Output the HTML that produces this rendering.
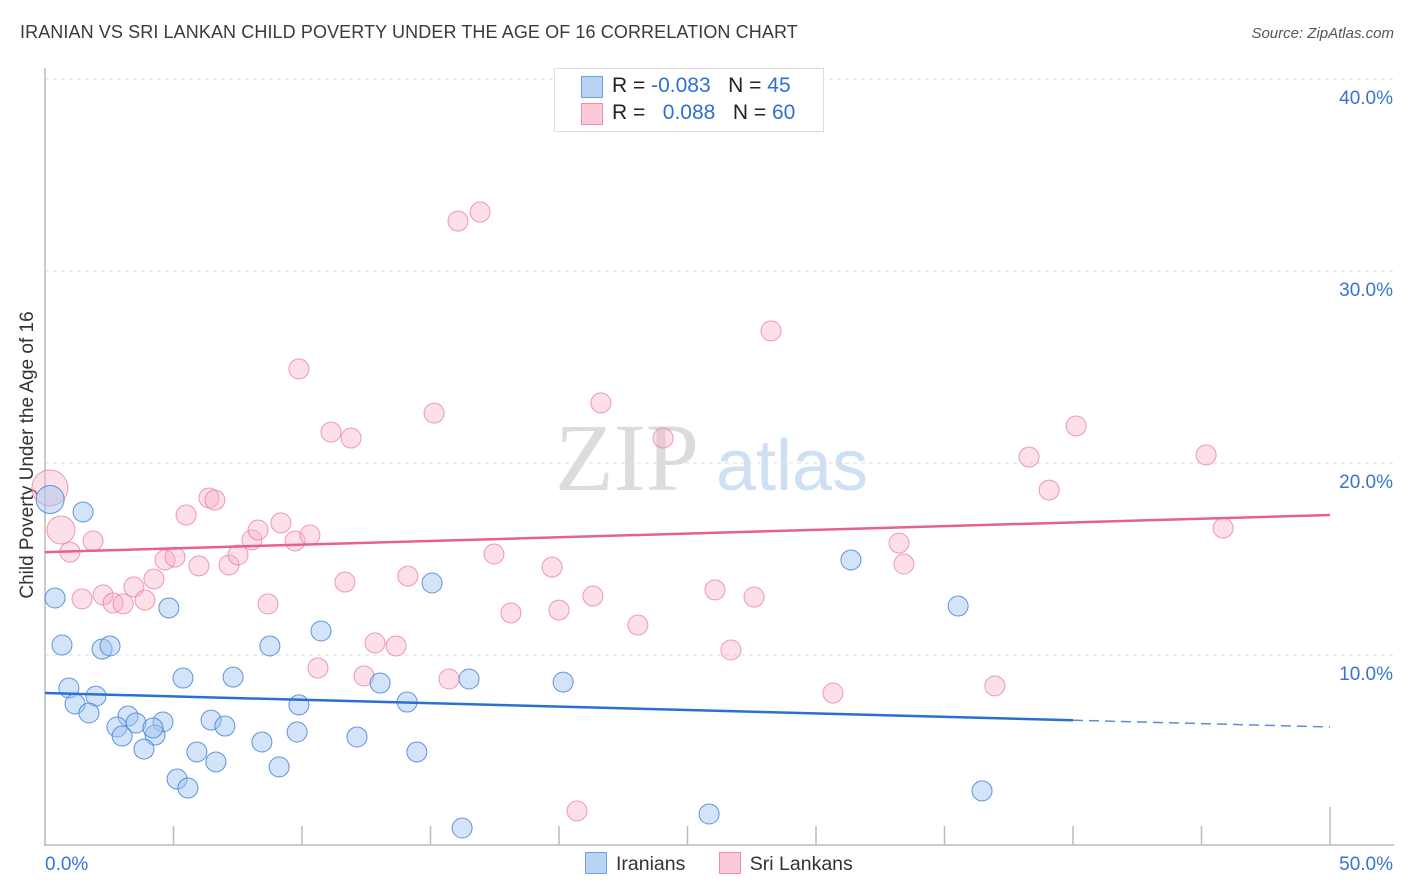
<!DOCTYPE html>
<html><head><meta charset="utf-8"><style>
body{margin:0;background:#fff;font-family:"Liberation Sans",sans-serif;}
#wrap{position:relative;width:1406px;height:892px;overflow:hidden;}
.t{position:absolute;white-space:nowrap;}
</style></head><body>
<div id="wrap">
<div class="t" style="left:20px;top:22px;font-size:18px;color:#3a3a3a;letter-spacing:0.1px;">IRANIAN VS SRI LANKAN CHILD POVERTY UNDER THE AGE OF 16 CORRELATION CHART</div>
<div class="t" style="right:12px;top:25px;font-size:15px;color:#555;font-style:italic;">Source: ZipAtlas.com</div>
<div class="t" style="left:28px;top:455px;font-size:19px;color:#333;transform:translate(-50%,-50%) rotate(-90deg);">Child Poverty Under the Age of 16</div>
<svg id="chart" width="1406" height="892" style="position:absolute;left:0;top:0"></svg>
<div class="t" style="left:554px;top:68px;width:268px;height:62px;border:1px solid #ddd;background:#fff;font-size:21px;color:#222;">
 <div style="position:absolute;left:26px;top:7px;width:20px;height:20px;background:#b9d3f5;border:1px solid #6fa0e0;"></div>
 <div style="position:absolute;left:57px;top:5px;">R = <span style="color:#2f6fd4">-0.083</span>&nbsp;&nbsp;&nbsp;N = <span style="color:#2f6fd4">45</span></div>
 <div style="position:absolute;left:26px;top:34px;width:20px;height:20px;background:#fbc9d8;border:1px solid #ea90ad;"></div>
 <div style="position:absolute;left:57px;top:32px;">R = &nbsp;&nbsp;<span style="color:#2f6fd4">0.088</span>&nbsp;&nbsp;&nbsp;N = <span style="color:#2f6fd4">60</span></div>
</div>
<div class="t" style="left:585px;top:852px;font-size:19.5px;color:#333;">
 <span style="display:inline-block;width:20px;height:20px;background:#b9d3f5;border:1px solid #6fa0e0;vertical-align:-4px;margin-right:9px;"></span>Iranians
 <span style="display:inline-block;width:20px;height:20px;background:#fbc9d8;border:1px solid #ea90ad;vertical-align:-4px;margin:0 9px 0 28px;"></span>Sri Lankans
</div>
</div>
<script>
const blueX=[0.2,1.48,0.39,0.66,2.22,2.53,0.93,1.98,1.17,1.71,3.23,2.80,3.54,3.00,4.59,4.28,4.20,3.85,4.82,5.37,5.14,5.56,5.91,6.46,6.65,7.00,7.32,8.44,8.75,9.11,9.88,9.81,10.74,12.14,13.04,14.09,14.47,15.06,16.23,16.50,20.16,25.84,31.36,35.53,36.46];
const blueY=[18.1,17.45,12.97,10.52,10.31,10.47,8.28,7.86,7.45,6.98,6.82,6.25,6.46,5.78,6.51,5.83,6.20,5.10,12.45,8.80,3.54,3.07,4.95,6.61,4.43,6.30,8.85,5.47,10.47,4.17,7.40,5.99,11.25,5.73,8.54,7.55,4.95,13.75,0.99,8.75,8.59,1.72,14.95,12.55,2.92];
const blueR=[14];
const pinkX=[0.19,0.62,0.97,1.87,1.44,2.26,2.65,3.04,3.46,3.89,4.24,4.67,5.06,5.49,5.99,6.38,6.61,7.16,7.51,8.05,8.29,8.68,9.18,9.73,10.31,9.88,10.62,11.13,11.67,11.91,12.41,12.84,13.66,14.12,15.14,15.72,16.07,16.93,17.47,18.13,19.73,20.00,20.70,21.32,21.63,23.07,24.05,26.07,26.69,27.59,28.25,30.66,33.23,33.42,36.96,38.29,39.07,40.12,45.18,45.84];
const pinkY=[18.70,16.51,15.36,15.94,12.92,13.13,12.71,12.66,13.54,12.86,13.96,14.95,15.10,17.29,14.64,18.18,18.07,14.69,15.21,15.99,16.51,12.66,16.88,15.94,16.25,24.90,9.32,21.61,13.80,21.30,8.91,10.63,10.47,14.11,22.60,8.75,32.60,33.07,15.26,12.19,14.58,12.34,1.88,13.07,23.13,11.56,21.30,13.39,10.26,13.02,26.88,8.02,15.83,14.74,8.39,20.31,18.59,21.93,20.42,16.61];
const pinkR=[18,14];
const blueTrend=[8.02,6.25];
const pinkTrend=[15.36,17.29];
const yTicks=[10,20,30,40];
const yTickLabels=["10.0%","20.0%","30.0%","40.0%"];
const xTicks=[5,10,15,20,25,30,35,40,45,50];

const sx=v=>45+v*25.7, sy=v=>847-v*19.2;
const svg=document.getElementById('chart');
const NS='http://www.w3.org/2000/svg';
function mk(tag,attrs,parent){const e=document.createElementNS(NS,tag);for(const k in attrs)e.setAttribute(k,attrs[k]);(parent||svg).appendChild(e);return e;}

let wm=mk('text',{x:555,y:490,'font-size':96,'font-family':'Liberation Serif,serif',fill:'#dcdcdc'});wm.textContent='ZIP';


let wm2=mk('text',{x:716,y:490,'font-size':72,'font-family':'Liberation Sans,sans-serif',fill:'#cfe0f4'});wm2.textContent='atlas';



yTicks.forEach((v,i)=>{
 const g=mk('line',{x1:45,x2:1395,y1:sy(v),y2:sy(v),stroke:'#dcdcdc','stroke-dasharray':'4 4'});
 
 
 const t=mk('text',{x:1393,y:sy(v)+25,'text-anchor':'end','font-size':19,fill:'#3a73d0','font-family':'Liberation Sans,sans-serif'});
 t.textContent=yTickLabels[i];
 
 
});
const ax=mk('line',{x1:45,x2:45,y1:68,y2:846,stroke:'#bbb','stroke-width':1.5});


const bx=mk('line',{x1:44,x2:1394,y1:845,y2:845,stroke:'#bbb','stroke-width':1.5});


xTicks.forEach(v=>{
 const tk=mk('line',{x1:sx(v),x2:sx(v),y1:v===50?807:826,y2:845,stroke:'#bbb','stroke-width':1.5});
 
 
});
const xl0=mk('text',{x:45,y:870,'font-size':19,fill:'#3a73d0','font-family':'Liberation Sans,sans-serif'});xl0.textContent='0.0%';


const xl1=mk('text',{x:1393,y:870,'text-anchor':'end','font-size':19,fill:'#3a73d0','font-family':'Liberation Sans,sans-serif'});xl1.textContent='50.0%';



pinkX.forEach((x,i)=>{
 const c=mk('circle',{cx:sx(x),cy:sy(pinkY[i]),r:pinkR[i]||10,fill:'rgba(248,176,200,0.4)',stroke:'rgba(232,130,165,0.8)','stroke-width':1});
 
 
});
blueX.forEach((x,i)=>{
 const c=mk('circle',{cx:sx(x),cy:sy(blueY[i]),r:blueR[i]||10,fill:'rgba(160,196,240,0.45)',stroke:'rgba(70,130,215,0.85)','stroke-width':1});
 
 
});
const bt=v=>blueTrend[0]+(blueTrend[1]-blueTrend[0])*v/50;
const l1=mk('line',{x1:sx(0),y1:sy(bt(0)),x2:sx(40),y2:sy(bt(40)),stroke:'#2a6fd6','stroke-width':2.5});


const l2=mk('line',{x1:sx(40),y1:sy(bt(40)),x2:sx(50),y2:sy(bt(50)),stroke:'#5a8fd8','stroke-width':1.5,'stroke-dasharray':'10 6'});


const l3=mk('line',{x1:sx(0),y1:sy(pinkTrend[0]),x2:sx(50),y2:sy(pinkTrend[1]),stroke:'#e8608f','stroke-width':2.5});


</script>
</body></html>
